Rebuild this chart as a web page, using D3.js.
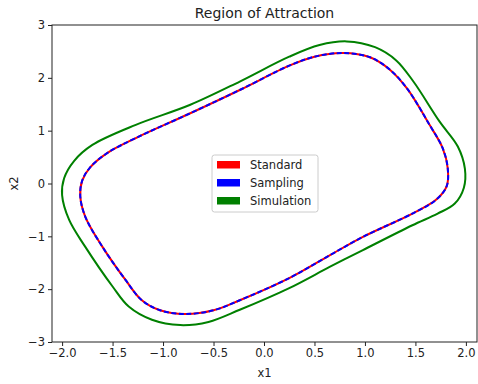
<!DOCTYPE html>
<html>
<head>
<meta charset="utf-8">
<script src="https://cdn.jsdelivr.net/npm/d3@7"></script>
<style>
  body { margin: 0; background: #fff; }
  text { font-family: "DejaVu Sans", sans-serif; fill: #222; }
</style>
</head>
<body>
<div id="chart"></div>
<script>
// boundary points (x1, x2)
var standard = [
  [0.25, 2.23], [0.50, 2.40], [0.78, 2.47], [1.05, 2.39], [1.25, 2.15],
  [1.42, 1.79], [1.64, 1.11], [1.77, 0.67], [1.82, 0.29], [1.81, -0.05],
  [1.71, -0.30], [1.48, -0.56], [0.98, -1.01], [0.65, -1.36], [0.25, -1.79],
  [-0.24, -2.21], [-0.50, -2.40], [-0.78, -2.47], [-1.03, -2.40], [-1.21, -2.21],
  [-1.37, -1.83], [-1.60, -1.20], [-1.77, -0.63], [-1.82, -0.24], [-1.80, 0.06],
  [-1.72, 0.31], [-1.55, 0.58], [-1.27, 0.86], [-0.73, 1.33], [-0.24, 1.77]
];
var sampling = [
  [0.25, 2.23], [0.50, 2.40], [0.78, 2.47], [1.05, 2.39], [1.25, 2.15],
  [1.42, 1.79], [1.64, 1.11], [1.77, 0.67], [1.82, 0.29], [1.81, -0.05],
  [1.71, -0.30], [1.48, -0.56], [0.98, -1.01], [0.65, -1.36], [0.25, -1.79],
  [-0.24, -2.21], [-0.50, -2.40], [-0.78, -2.47], [-1.03, -2.40], [-1.21, -2.21],
  [-1.37, -1.83], [-1.60, -1.20], [-1.77, -0.63], [-1.82, -0.24], [-1.80, 0.06],
  [-1.72, 0.31], [-1.55, 0.58], [-1.27, 0.86], [-0.73, 1.33], [-0.24, 1.77]
];
var simulation = [
  [0.25, 2.40], [0.55, 2.62], [0.82, 2.69], [1.10, 2.58], [1.31, 2.33],
  [1.48, 1.93], [1.74, 1.17], [1.92, 0.70], [1.99, 0.28], [1.98, -0.08],
  [1.89, -0.38], [1.72, -0.57], [1.47, -0.79], [0.98, -1.26], [0.65, -1.58],
  [0.25, -1.98], [-0.24, -2.39], [-0.55, -2.62], [-0.83, -2.68], [-1.11, -2.58],
  [-1.34, -2.33], [-1.50, -1.95], [-1.77, -1.20], [-1.93, -0.69], [-2.00, -0.22],
  [-1.98, 0.10], [-1.88, 0.43], [-1.70, 0.73], [-1.27, 1.11], [-0.73, 1.49],
  [-0.24, 1.93]
];

var xTicks = [-2.0, -1.5, -1.0, -0.5, 0.0, 0.5, 1.0, 1.5, 2.0];
var yTicks = [-3, -2, -1, 0, 1, 2, 3];
var legendNames = ["Standard", "Sampling", "Simulation"];
var legendColors = ["red", "blue", "green"];

var width = 478, height = 384;
var margin = {left: 52, right: 1, top: 25, bottom: 42};

var svg = d3.select("#chart").append("svg")
  .attr("width", width)
  .attr("height", height);

var x = d3.scaleLinear().domain([-2.1, 2.11]).range([margin.left, width - margin.right]);
var y = d3.scaleLinear().domain([-3, 3]).range([height - margin.bottom, margin.top]);

var fmtMinus = s => s.replace("-", "\u2212");

// axes
var xAxis = svg.append("g")
  .attr("transform", "translate(0," + (height - margin.bottom) + ")")
  .call(d3.axisBottom(x).tickValues(xTicks).tickSize(4).tickPadding(3)
    .tickFormat(d => fmtMinus(d3.format(".1f")(d))));
var yAxis = svg.append("g")
  .attr("transform", "translate(" + margin.left + ",0)")
  .call(d3.axisLeft(y).tickValues(yTicks).tickSize(4).tickPadding(3)
    .tickFormat(d => fmtMinus(d3.format("d")(d))));
[xAxis, yAxis].forEach(g => {
  g.select(".domain").remove();
  g.selectAll("line").attr("stroke", "#222");
  g.selectAll("text").attr("font-size", 11.5).style("fill", "#222");
});

// frame
svg.append("rect")
  .attr("x", margin.left).attr("y", margin.top)
  .attr("width", width - margin.right - margin.left)
  .attr("height", height - margin.bottom - margin.top)
  .attr("fill", "none").attr("stroke", "#222").attr("stroke-width", 1);

var line = d3.line()
  .x(d => x(d[0]))
  .y(d => y(d[1]))
  .curve(d3.curveCatmullRomClosed.alpha(0.5));

svg.append("path").datum(simulation)
  .attr("d", line).attr("fill", "none")
  .attr("stroke", "green").attr("stroke-width", 2);
svg.append("path").datum(standard)
  .attr("d", line).attr("fill", "none")
  .attr("stroke", "red").attr("stroke-width", 2);
svg.append("path").datum(sampling)
  .attr("d", line).attr("fill", "none")
  .attr("stroke", "blue").attr("stroke-width", 2)
  .attr("stroke-dasharray", "5,2.5");

// title and labels
svg.append("text")
  .attr("x", (margin.left + width - margin.right) / 2).attr("y", 18)
  .attr("text-anchor", "middle").attr("font-size", 14)
  .text("Region of Attraction");
svg.append("text")
  .attr("x", (margin.left + width - margin.right) / 2).attr("y", 377)
  .attr("text-anchor", "middle").attr("font-size", 11.5)
  .text("x1");
svg.append("text")
  .attr("transform", "translate(18," + (margin.top + height - margin.bottom) / 2 + ") rotate(-90)")
  .attr("text-anchor", "middle").attr("font-size", 11.5)
  .text("x2");

// legend
var lg = svg.append("g").attr("transform", "translate(212,155)");
lg.append("rect")
  .attr("width", 106).attr("height", 57).attr("rx", 2.5)
  .attr("fill", "white").attr("fill-opacity", 0.8)
  .attr("stroke", "#cccccc").attr("stroke-width", 1);
legendNames.forEach((name, i) => {
  lg.append("rect")
    .attr("x", 5).attr("y", 6 + i * 18)
    .attr("width", 23).attr("height", 7.5)
    .attr("fill", legendColors[i]);
  lg.append("text")
    .attr("x", 38).attr("y", 14 + i * 18)
    .attr("font-size", 11.5)
    .text(name);
});
</script>
</body>
</html>
